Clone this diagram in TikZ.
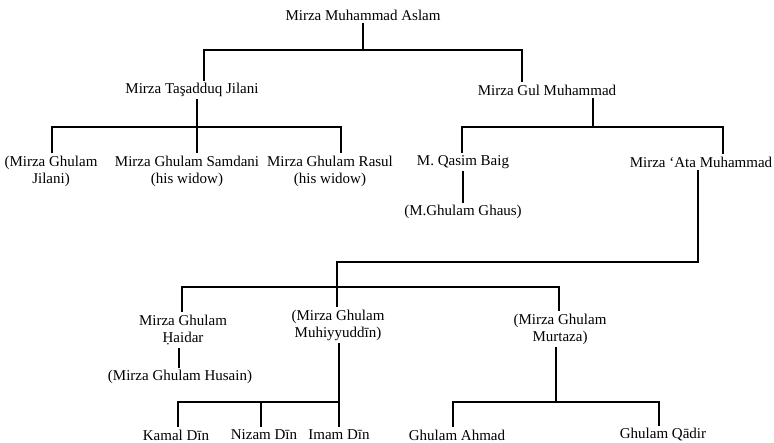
\documentclass[tikz,border=0pt]{standalone}
\usepackage{fontspec}
\setmainfont{Liberation Serif}
\begin{document}
\begin{tikzpicture}[x=1pt,y=-1pt,
  person/.style={inner sep=3pt, align=center, font=\fontsize{15}{17}\selectfont},
  link/.style={line width=1.2pt, line cap=rect}]
\useasboundingbox (0,0) rectangle (774,442);
% nodes
\node[person] (aslam) at (363,15) {Mirza Muhammad Aslam};
\node[person] (tas) at (192,90) {Mirza Taşadduq Jilani};
\node[person] (gul) at (547,90) {Mirza Gul Muhammad};
\node[person] (jil) at (51,171) {(Mirza Ghulam\\Jilani)};
\node[person] (sam) at (187,171) {Mirza Ghulam Samdani\\(his widow)};
\node[person] (ras) at (330,171) {Mirza Ghulam Rasul\\(his widow)};
\node[person] (qas) at (463,162) {M. Qasim Baig};
\node[person] (ata) at (701,162) {Mirza ‘Ata Muhammad};
\node[person] (ghaus) at (463,212) {(M.Ghulam Ghaus)};
\node[person] (hai) at (183,330) {Mirza Ghulam\\Ḥaidar};
\node[person] (muh) at (338,325) {(Mirza Ghulam\\Muhiyyuddīn)};
\node[person] (mur) at (560,329) {(Mirza Ghulam\\Murtaza)};
\node[person] (hus) at (180,377) {(Mirza Ghulam Husain)};
\node[person] (kam) at (176,435) {Kamal Dīn};
\node[person] (niz) at (264,435) {Nizam Dīn};
\node[person] (ima) at (339,435) {Imam Dīn};
\node[person] (ahm) at (457,435) {Ghulam Ahmad};
\node[person] (qad) at (663,435) {Ghulam Qādir};
% bus coordinates
\coordinate (b1m) at (363,50);
\coordinate (b1l) at (204,50);
\coordinate (b1r) at (522,50);
\coordinate (b2m) at (197,127);
\coordinate (b2l) at (52,127);
\coordinate (b2r) at (341,127);
\coordinate (b3m) at (593,127);
\coordinate (b3l) at (462,127);
\coordinate (b3r) at (723,127);
\coordinate (c1) at (698,262);
\coordinate (c2) at (337,262);
\coordinate (b4m) at (337,287);
\coordinate (b4l) at (182,287);
\coordinate (b4r) at (559,287);
\coordinate (b5m) at (339,402);
\coordinate (b5l) at (178,402);
\coordinate (b5c) at (261,402);
\coordinate (b6m) at (556,402);
\coordinate (b6l) at (453,402);
\coordinate (b6r) at (659,402);
\coordinate (qv) at (463,0);
\coordinate (hv) at (179,0);
% connectors
\draw[link] (aslam.south -| b1m) -- (b1m);
\draw[link] (b1l |- tas.north) -- (b1l) -- (b1r) -- (b1r |- gul.north);
\draw[link] (tas.south -| b2m) -- (b2m);
\draw[link] (b2l |- jil.north) -- (b2l) -- (b2r) -- (b2r |- ras.north);
\draw[link] (b2m) -- (b2m |- sam.north);
\draw[link] (gul.south -| b3m) -- (b3m);
\draw[link] (b3l |- qas.north) -- (b3l) -- (b3r) -- (b3r |- ata.north);
\draw[link] (qas.south -| qv) -- (ghaus.north -| qv);
\draw[link] (ata.south -| c1) -- (c1) -- (c2) -- (b4m);
\draw[link] (b4l |- hai.north) -- (b4l) -- (b4r) -- (b4r |- mur.north);
\draw[link] (b4m) -- (b4m |- muh.north);
\draw[link] (hai.south -| hv) -- (hus.north -| hv);
\draw[link] (muh.south -| b5m) -- (b5m);
\draw[link] (b5l |- kam.north) -- (b5l) -- (b5m) -- (b5m |- ima.north);
\draw[link] (b5c) -- (b5c |- niz.north);
\draw[link] (mur.south -| b6m) -- (b6m);
\draw[link] (b6l |- ahm.north) -- (b6l) -- (b6r) -- (b6r |- qad.north);
\end{tikzpicture}
\end{document}
